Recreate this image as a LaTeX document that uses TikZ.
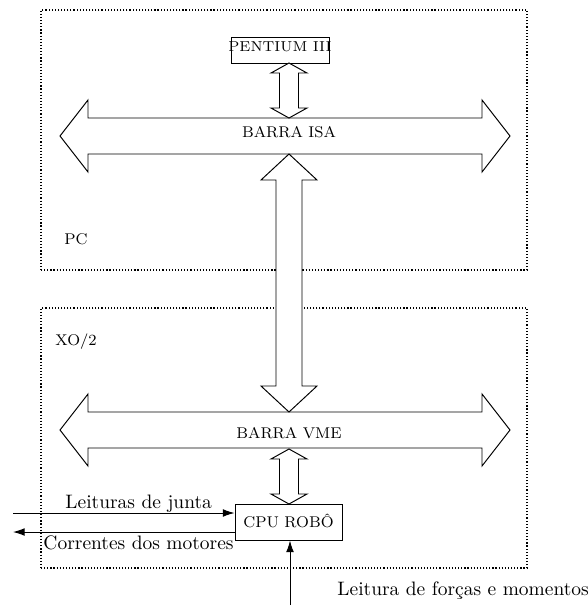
\documentclass[tikz,border=0pt]{standalone}
\usetikzlibrary{arrows.meta,fit}
\begin{document}
\begin{tikzpicture}[x=0.514pt,y=-0.514pt, line width=0.5pt,
  region/.style={draw, densely dotted, line width=0.6pt, inner sep=0pt},
  box/.style={draw, inner sep=0pt},
  caps/.style={font=\footnotesize, inner sep=0pt, anchor=base},
  txt/.style={font=\normalsize, inner sep=0pt, anchor=base west},
  bus/.style={draw, fill=white, line join=miter},
  sig/.style={-{Latex[length=6pt,width=4pt]}}]
\useasboundingbox (0,0) rectangle (587,608);
% regions
\node[region, fit={(41,10) (527,270)}] (pc) {};
\node[region, fit={(41,308) (527,568)}] (xo) {};
\node[caps] (pclbl) at (76,244) {PC};
\node[caps] (xolbl) at (76,345) {XO/2};
% boxes
\node[box, fit={(231,37) (329,63)}] (pent) {};
\node[caps, font=\fontsize{7.4}{9}\selectfont] (penttxt) at (280,51) {PENTIUM III};
\node[box, fit={(235,504) (342,540)}] (cpu) {};
\node[caps] (cputxt) at (288.5,527) {CPU ROB\^O};
% buses
\draw[bus] (60,136) -- (88,100) -- (88,118) -- (482,118) -- (482,100) -- (510,136)
  -- (482,172) -- (482,154) -- (88,154) -- (88,172) -- cycle;
\node[caps] (isa) at (289,137) {BARRA ISA};
\draw[bus] (60,430) -- (88,394) -- (88,412) -- (482,412) -- (482,394) -- (510,430)
  -- (482,466) -- (482,448) -- (88,448) -- (88,466) -- cycle;
\node[caps] (vme) at (289,438) {BARRA VME};
% vertical block arrows
\draw[bus] (289,63) -- (307,73) -- (298.5,73) -- (298.5,108) -- (307,108) -- (289,118)
  -- (271,108) -- (279.5,108) -- (279.5,73) -- (271,73) -- cycle;
\draw[bus] (289,154) -- (317,180) -- (302,180) -- (302,386) -- (317,386) -- (289,412)
  -- (261,386) -- (276,386) -- (276,180) -- (261,180) -- cycle;
\draw[bus] (289,449) -- (307,459) -- (298.5,459) -- (298.5,494) -- (307,494) -- (289,504)
  -- (271,494) -- (279.5,494) -- (279.5,459) -- (271,459) -- cycle;
% signals
\coordinate (lj) at (13,513);
\coordinate (cm) at (13,532);
\coordinate (fm) at (290,605);
\draw[sig] (lj) -- (lj -| cpu.west);
\draw[sig] (cm -| cpu.west) -- (cm);
\draw[sig] (fm) -- (fm |- cpu.south);
\node[txt] (ljl) at (65,508) {Leituras de junta};
\node[txt] (cml) at (43,549) {Correntes dos motores};
\node[txt] (fml) at (337,595) {Leitura de for\c{c}as e momentos};
\end{tikzpicture}
\end{document}
